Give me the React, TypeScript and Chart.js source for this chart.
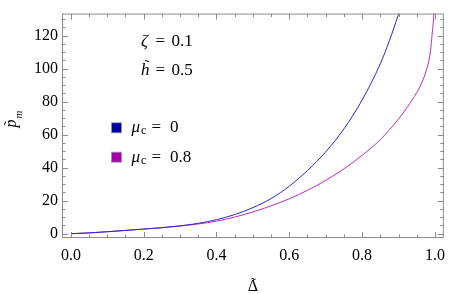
import React, { useEffect, useRef } from "react";
import { Chart, registerables } from "chart.js";

Chart.register(...registerables);

// ---- data ----
const deltaBlue = [0, 0.05, 0.1, 0.15, 0.2, 0.25, 0.3, 0.35, 0.4, 0.45, 0.5, 0.55, 0.6, 0.65, 0.7, 0.75, 0.8, 0.85, 0.875, 0.9, 0.92];
const pBlue = [0, 0.5, 1.2, 2.0, 2.8, 3.7, 4.8, 6.3, 8.5, 11.6, 15.8, 21.3, 28.8, 38.3, 49.6, 63.5, 81, 103, 117, 133, 147];

const deltaMagenta = [0, 0.05, 0.1, 0.15, 0.2, 0.25, 0.3, 0.35, 0.4, 0.45, 0.5, 0.55, 0.6, 0.65, 0.7, 0.75, 0.8, 0.85, 0.875, 0.9, 0.925, 0.95, 0.965, 0.975, 0.983, 0.988, 0.992, 0.995, 0.997, 0.999];
const pMagenta = [0, 0.5, 1.2, 2.0, 2.8, 3.6, 4.6, 5.9, 7.6, 10.1, 13.2, 16.9, 21.2, 26.3, 32.3, 39.3, 47.5, 57, 63, 69.5, 77, 85.5, 92, 98, 104.5, 111, 120, 127, 133, 145];

const seriesLabels = ["0", "0.8"];

const xTickValues = [0, 0.2, 0.4, 0.6, 0.8, 1.0];
const xMinorValues = [0.05, 0.1, 0.15, 0.25, 0.3, 0.35, 0.45, 0.5, 0.55, 0.65, 0.7, 0.75, 0.85, 0.9, 0.95];
const yTickValues = [0, 20, 40, 60, 80, 100, 120];
const yMinorValues = [5, 10, 15, 25, 30, 35, 45, 50, 55, 65, 70, 75, 85, 90, 95, 105, 110, 115, 125, 130];

const annotationLines = [
  { sym: "ζ", tilde: false, value: "0.1" },
  { sym: "h", tilde: true, value: "0.5" },
];

const FONT = "'Liberation Serif', 'Times New Roman', serif";
const BLUE_LINE = "rgb(40,40,205)";
const MAG_LINE = "rgb(195,40,195)";
const BLUE_BOX = "rgb(0,0,165)";
const MAG_BOX = "rgb(170,0,170)";
const FRAME = "#8c8c8c";

// draw a tilde accent (as text) centred horizontally at cx with its vertical middle at cy
function drawTilde(ctx: CanvasRenderingContext2D, cx: number, cy: number, size: number) {
  ctx.save();
  ctx.font = `${size}px ${FONT}`;
  ctx.textAlign = "left";
  ctx.textBaseline = "alphabetic";
  const m = ctx.measureText("\u02DC");
  const w = m.actualBoundingBoxRight + m.actualBoundingBoxLeft;
  const mid = (m.actualBoundingBoxAscent - m.actualBoundingBoxDescent) / 2;
  ctx.fillText("\u02DC", cx - w / 2 + m.actualBoundingBoxLeft, cy + mid);
  ctx.restore();
}

const overlayPlugin = {
  id: "overlay",
  afterDraw(chart: any) {
    const { ctx, chartArea: a, scales } = chart;
    const x = scales.x;
    const y = scales.y;
    ctx.save();
    // frame
    ctx.strokeStyle = FRAME;
    ctx.lineWidth = 1;
    ctx.strokeRect(a.left + 0.5, a.top + 0.5, a.right - a.left - 1, a.bottom - a.top - 1);
    // inward ticks
    const line = (x1: number, y1: number, x2: number, y2: number) => {
      ctx.beginPath();
      ctx.moveTo(x1, y1);
      ctx.lineTo(x2, y2);
      ctx.stroke();
    };
    const xt = (v: number, len: number) => {
      const px = Math.round(x.getPixelForValue(v)) + 0.5;
      line(px, a.bottom, px, a.bottom - len);
      line(px, a.top, px, a.top + len);
    };
    const yt = (v: number, len: number) => {
      const py = Math.round(y.getPixelForValue(v)) + 0.5;
      line(a.left, py, a.left + len, py);
      line(a.right, py, a.right - len, py);
    };
    xTickValues.forEach((v) => xt(v, 6));
    xMinorValues.forEach((v) => xt(v, 3.5));
    yTickValues.forEach((v) => yt(v, 6));
    yMinorValues.forEach((v) => yt(v, 3.5));

    ctx.fillStyle = "#000";
    ctx.textBaseline = "alphabetic";
    ctx.textAlign = "left";

    // annotations
    const annBase = [46, 74.5];
    annotationLines.forEach((ln, i) => {
      const b = annBase[i];
      ctx.font = `italic 17px ${FONT}`;
      ctx.fillText(ln.sym, 141, b);
      if (ln.tilde) drawTilde(ctx, 147, b - 13.8, 15);
      ctx.font = `17px ${FONT}`;
      ctx.fillText("=", 155.5, b);
      ctx.fillText(ln.value, 171.5, b);
    });

    // legend
    const legBase = [132.3, 161.7];
    const boxes = [BLUE_BOX, MAG_BOX];
    seriesLabels.forEach((lab, i) => {
      const b = legBase[i];
      ctx.fillStyle = boxes[i];
      ctx.fillRect(111.5, b - 9.5, 10, 10);
      ctx.strokeStyle = "rgba(150,150,170,0.8)";
      ctx.strokeRect(111.5, b - 9.5, 10, 10);
      ctx.fillStyle = "#000";
      ctx.font = `italic 17px ${FONT}`;
      ctx.fillText("μ", 131.5, b);
      ctx.font = `12px ${FONT}`;
      ctx.fillText("c", 141, b + 2);
      ctx.font = `17px ${FONT}`;
      ctx.fillText("=", 151.5, b);
      ctx.fillText(lab, 170, b);
    });

    // x-axis title: Δ with tilde
    const cx = (a.left + a.right) / 2;
    ctx.font = `16px ${FONT}`;
    ctx.textAlign = "center";
    ctx.fillText("Δ", cx, 290.5);
    drawTilde(ctx, cx + 0.5, 278.8, 15);

    // y-axis title (rotated): p̃ with subscript m
    ctx.save();
    ctx.translate(15.5, 127.5);
    ctx.rotate(-Math.PI / 2);
    ctx.textAlign = "left";
    ctx.font = `italic 16px ${FONT}`;
    ctx.fillText("p", 0, 0);
    drawTilde(ctx, 4.5, -10.5, 14);
    ctx.font = `italic 11px ${FONT}`;
    ctx.fillText("m", 9, 6.5);
    ctx.restore();

    ctx.restore();
  },
};

export default function App() {
  const ref = useRef<HTMLCanvasElement | null>(null);
  useEffect(() => {
    document.body.style.margin = "0";
    const canvas = ref.current!;
    const tickFont = { family: FONT, size: 16 };
    const chart = new Chart(canvas, {
      type: "line",
      data: {
        datasets: [
          {
            label: "μc = " + seriesLabels[0],
            data: deltaBlue.map((d, i) => ({ x: d, y: pBlue[i] })),
            borderColor: BLUE_LINE,
            borderWidth: 1,
            pointRadius: 0,
            cubicInterpolationMode: "monotone",
            fill: false,
          },
          {
            label: "μc = " + seriesLabels[1],
            data: deltaMagenta.map((d, i) => ({ x: d, y: pMagenta[i] })),
            borderColor: MAG_LINE,
            borderWidth: 1,
            pointRadius: 0,
            cubicInterpolationMode: "monotone",
            fill: false,
          },
        ],
      },
      options: {
        animation: false,
        responsive: false,
        maintainAspectRatio: false,
        layout: { padding: { top: 1, right: 4, left: 0, bottom: 0 } },
        plugins: { legend: { display: false }, tooltip: { enabled: false } },
        scales: {
          x: {
            type: "linear",
            min: -0.0244,
            max: 1.0244,
            grid: { display: false, drawTicks: false },
            border: { display: false },
            ticks: {
              font: tickFont,
              color: "#000",
              padding: 8,
              autoSkip: false,
              maxRotation: 0,
              callback: (v: any) => Number(v).toFixed(1),
            },
            afterBuildTicks: (s: any) => {
              s.ticks = xTickValues.map((v) => ({ value: v }));
            },
            afterFit: (s: any) => {
              s.height = 56;
            },
          },
          y: {
            type: "linear",
            min: -2.6,
            max: 133.4,
            grid: { display: false, drawTicks: false },
            border: { display: false },
            ticks: {
              font: tickFont,
              color: "#000",
              padding: 4,
              autoSkip: false,
              callback: (v: any) => String(v),
            },
            afterBuildTicks: (s: any) => {
              s.ticks = yTickValues.map((v) => ({ value: v }));
            },
            afterFit: (s: any) => {
              s.width = 62;
            },
          },
        },
      },
      plugins: [overlayPlugin],
    } as any);
    return () => chart.destroy();
  }, []);
  return (
    <div style={{ position: "fixed", left: 0, top: 0, width: 453, height: 294 }}>
      <canvas ref={ref} width={453} height={294} />
    </div>
  );
}
